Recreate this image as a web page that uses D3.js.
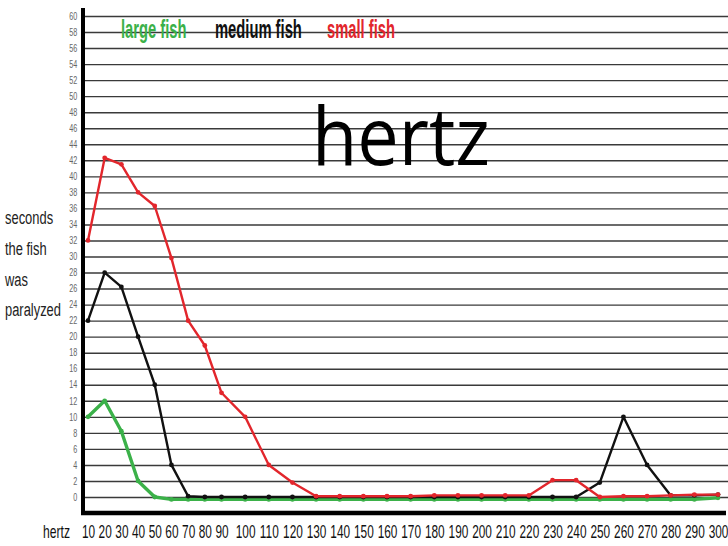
<!DOCTYPE html>
<html>
<head>
<meta charset="utf-8">
<script src="https://cdn.jsdelivr.net/npm/d3@7"></script>
<style>
  html, body { margin: 0; padding: 0; background: #fff; }
  svg { display: block; }
</style>
</head>
<body>
<svg id="chart" width="728" height="546"></svg>
<script>
// frequencies on the x axis (hertz)
const hertz = d3.range(10, 301, 10);
// seconds paralyzed
const largeFish  = [10, 12, 8.2, 2, 0, -0.3, -0.3, -0.3, -0.3, -0.3, -0.3, -0.3, -0.3, -0.3, -0.3,
                    -0.3, -0.3, -0.3, -0.3, -0.3, -0.3, -0.3, -0.3, -0.3, -0.3, -0.3, -0.3, -0.3, -0.3, -0.1];
const mediumFish = [22, 28, 26.2, 20, 14, 4, 0.1, 0, 0, 0, 0, 0, 0, 0, 0,
                    0, 0, 0, 0, 0, 0, 0, 0, 0, 1.8, 10, 4, 0.2, 0.2, 0.3];
const smallFish  = [32, 42.3, 41.5, 38, 36.3, 29.8, 22, 18.9, 13, 10, 4, 1.8, 0.1, 0.1, 0.1,
                    0.1, 0.1, 0.2, 0.2, 0.2, 0.2, 0.2, 2.1, 2.1, 0, 0.1, 0.1, 0.2, 0.3, 0.3];
const yTicks = d3.range(0, 61, 2);
const yTitle = ['seconds', 'the fish', 'was', 'paralyzed'];

const RED = '#e2262c', BLACK = '#111111', GREEN = '#3bb149', GRID = '#3a3a3a', TICK = '#666';
const NARROW = '"Liberation Sans", Arial, sans-serif';

const svg = d3.select('#chart');
const W = 728, AX = 83, XAXIS_Y = 513;

// the drawn x spacing widens after 90 Hz (labels are set by text width)
const x = d3.scaleLinear().domain([10, 90, 300]).range([88, 221.5, 718]);
const y = d3.scaleLinear().domain([0, 60]).range([497, 16]);

// gridlines + y tick labels
const gy = svg.append('g').attr('transform', `translate(${AX},0)`)
  .call(d3.axisLeft(y).tickValues(yTicks).tickSize(-(W - AX)).tickPadding(8).tickFormat(d3.format('d')));
gy.select('.domain').remove();
gy.selectAll('.tick line').attr('stroke', GRID).attr('stroke-width', 1.4);
gy.selectAll('.tick text').attr('font-family', NARROW).attr('font-size', 10).attr('fill', TICK)
  .attr('transform', 'scale(0.72,1)');

// x tick labels
const gx = svg.append('g').attr('transform', `translate(0,${XAXIS_Y})`)
  .call(d3.axisBottom(x).tickValues(hertz).tickSize(0).tickPadding(25).tickFormat(d3.format('d')));
gx.select('.domain').remove();
gx.selectAll('.tick text').attr('font-family', NARROW).attr('font-size', 18.5).attr('fill', '#111')
  .attr('dy', 0).attr('transform', 'scale(0.64,1)');

svg.append('text').attr('transform', 'translate(43,538) scale(0.64,1)').attr('font-family', NARROW)
  .attr('font-size', 19).attr('fill', '#111').text('hertz');

// thick axes
svg.append('line').attr('x1', AX).attr('x2', AX).attr('y1', 8).attr('y2', XAXIS_Y + 2)
  .attr('stroke', '#000').attr('stroke-width', 4);
svg.append('line').attr('x1', AX - 2).attr('x2', 726).attr('y1', XAXIS_Y).attr('y2', XAXIS_Y)
  .attr('stroke', '#000').attr('stroke-width', 4.5);

// y title, set narrow like the original
const titleY = [224, 255, 286, 316];
svg.selectAll('.ytitle').data(yTitle).join('text').attr('class', 'ytitle')
  .attr('transform', (d, i) => `translate(5,${titleY[i]}) scale(0.68,1)`)
  .attr('font-family', NARROW).attr('font-size', 19).attr('fill', '#222')
  .text(d => d);

// big "hertz" caption
svg.append('text').attr('x', 312).attr('y', 165).attr('font-family', '"Open Sans", "Noto Sans", sans-serif')
  .attr('font-size', 80).attr('fill', '#000').attr('textLength', 178).attr('lengthAdjust', 'spacingAndGlyphs')
  .text('hertz');

// series
const series = [
  { name: 'large fish',  values: largeFish,  color: GREEN, w: 3.4, lx: 121 },
  { name: 'medium fish', values: mediumFish, color: BLACK, w: 2.4, lx: 215 },
  { name: 'small fish',  values: smallFish,  color: RED,   w: 2.4, lx: 327 },
];
const line = d3.line().x((d, i) => x(hertz[i])).y(d => y(d));

series.forEach(s => {
  svg.append('path').datum(s.values).attr('d', line).attr('fill', 'none')
    .attr('stroke', s.color).attr('stroke-width', s.w).attr('stroke-linejoin', 'round');
  svg.append('g').selectAll('circle').data(s.values).join('circle')
    .attr('cx', (d, i) => x(hertz[i])).attr('cy', d => y(d)).attr('r', 2.4).attr('fill', s.color);
  svg.append('text').attr('transform', `translate(${s.lx},38) scale(0.59,1)`)
    .attr('font-family', NARROW).attr('font-weight', 700)
    .attr('font-size', 25).attr('fill', s.color).text(s.name);
});
</script>
</body>
</html>
